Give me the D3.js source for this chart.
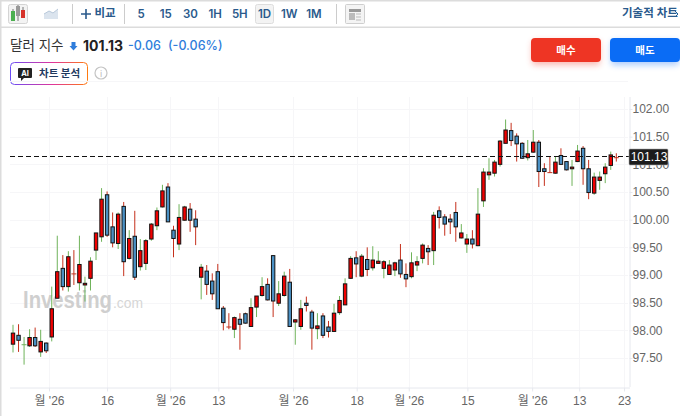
<!DOCTYPE html>
<html>
<head>
<meta charset="utf-8">
<script src="https://cdnjs.cloudflare.com/ajax/libs/d3/7.8.5/d3.min.js"></script>
<style>
	html, body {margin:0;padding:0;background:#fff;overflow:hidden;}
	text {font-family:"Inter","Noto Sans CJK KR",sans-serif;}
	.axis text {font-family:"Liberation Sans","Noto Sans CJK KR",sans-serif;font-size:12px;fill:#666;}
	.axis path, .axis line {stroke:#e6e8ee;}
	.tool {fill:#2a5a8c;font-size:11.5px;font-weight:600;text-anchor:middle;}
</style>
</head>
<body>
<svg id="chart" width="680" height="416"></svg>
<script>
var opens = [97.75,97.91,97.73,97.72,97.87,97.61,97.77,97.88,98.58,99.12,98.79,99.03,98.86,98.82,98.94,99.45,99.69,100.45,99.87,99.57,
	100.24,99.30,99.70,99.15,99.21,99.65,99.89,100.23,100.59,99.81,99.56,99.99,100.19,100.01,98.96,99.07,98.89,99.06,98.40,98.07,
	98.02,98.20,98.30,98.07,98.42,98.63,98.83,99.35,98.49,98.63,98.87,98.15,98.07,98.49,98.33,98.03,98.26,98.06,97.98,98.32,
	98.46,98.94,99.31,98.98,99.28,99.13,99.21,99.12,99.01,99.09,99.27,99.01,98.97,99.18,99.30,99.48,99.44,100.16,100.05,100.01,
	100.13,99.67,99.56,99.65,99.53,100.34,100.81,100.84,101.00,101.38,101.61,101.51,101.38,101.12,101.22,101.40,100.92,100.86,100.84,101.16,
	101.05,100.92,101.05,101.29,100.92,100.48,100.71,100.83,100.98,101.13];
var highs = [98.10,98.11,97.88,98.02,98.05,98.01,97.78,98.79,99.71,99.36,99.43,99.45,99.71,98.97,99.32,99.76,100.57,100.51,100.13,100.13,
	100.32,99.81,100.16,99.65,99.65,99.94,100.22,100.63,100.66,99.89,100.28,100.25,100.30,100.17,99.20,99.18,99.03,99.20,98.44,98.31,
	98.25,98.31,98.32,98.58,98.62,98.96,98.94,99.36,98.89,99.06,99.11,98.20,98.55,98.61,98.37,98.31,98.31,98.17,98.48,98.62,
	98.94,99.34,99.43,99.38,99.50,99.52,99.43,99.27,99.27,99.24,99.56,99.21,99.41,99.34,99.57,99.54,100.14,100.24,100.10,100.10,
	100.32,99.92,99.74,99.81,100.57,100.93,101.11,101.08,101.44,101.81,101.75,101.56,101.40,101.44,101.62,101.44,101.02,101.15,101.15,101.29,
	101.06,101.08,101.35,101.33,101.08,100.85,100.87,101.02,101.23,101.20];
var lows = [97.60,97.61,97.38,97.70,97.70,97.52,97.59,97.80,98.58,98.72,98.70,98.82,98.72,98.52,98.72,99.27,99.60,99.69,99.50,99.47,
	98.98,99.28,98.91,99.08,99.09,99.62,99.81,100.22,99.96,99.32,99.45,99.98,99.78,99.54,98.56,98.64,98.55,98.39,98.00,98.02,
	97.86,97.65,98.12,98.07,98.24,98.61,98.54,98.24,98.44,98.61,98.06,97.74,98.01,98.34,97.65,97.84,97.86,97.87,97.97,98.28,
	98.46,98.93,98.96,98.96,98.98,99.08,99.21,98.94,99.00,98.98,98.95,98.78,98.94,99.07,99.21,99.18,99.18,99.84,99.71,99.74,
	99.60,99.66,99.40,99.48,99.52,100.23,100.72,100.78,100.96,101.38,101.33,101.05,101.10,101.07,101.21,100.59,100.61,100.85,100.83,100.99,
	100.89,100.61,101.04,100.63,100.37,100.45,100.54,100.66,100.90,101.05];
var closes = [97.95,97.82,97.74,97.87,97.72,97.80,97.63,98.39,99.06,98.79,99.33,99.02,99.19,98.85,99.25,99.76,100.37,99.72,99.58,100.10,
	99.24,99.66,98.96,99.44,99.62,99.92,100.16,100.52,99.96,99.66,100.04,100.23,99.99,99.87,99.14,98.83,98.66,98.39,98.14,98.06,
	98.23,98.11,98.13,98.41,98.62,98.79,98.55,98.53,98.66,98.98,98.07,98.19,98.39,98.45,98.04,98.08,97.91,97.98,98.31,98.54,
	98.84,99.30,99.20,99.34,99.10,99.27,99.25,99.24,99.18,99.22,99.02,98.93,99.22,99.24,99.54,99.42,100.08,100.04,99.92,99.96,
	99.87,99.76,99.65,99.56,100.10,100.86,100.86,101.04,101.42,101.62,101.43,101.37,101.11,101.19,101.40,100.87,100.87,100.85,101.04,101.00,
	100.90,100.95,101.24,100.92,100.49,100.77,100.77,100.95,101.17,101.12];

var priceTicks = [97.5,98,98.5,99,99.5,100,100.5,101,101.5,102];
var dateTicks = [6.5,17,28.4,37.1,50.6,62.1,71.5,82.1,93.8,102.3,110.4];
var dateLabels = ["월 '26","16","월 '26","13","월 '26","18","월 '26","15","월 '26","13","23"];
var periods = ["5","15","30","1H","5H","1D","1W","1M"];
var lastPrice = 101.13;

var green = "#6fb35a", red = "#c5301c", blueBody = "#4a90c4", redBody = "#f00000";

var svg = d3.select("#chart");
var x = d3.scaleLinear().domain([0, 109]).range([13, 616.3]);
var y = d3.scaleLinear().domain([97.5, 102]).range([358, 109]);

// frame
svg.append("rect").attr("x", 0).attr("y", 0).attr("width", 680).attr("height", 1.5).attr("fill", "#dcdcdc");
svg.append("rect").attr("x", 0).attr("y", 26.5).attr("width", 680).attr("height", 1.5).attr("fill", "#dcdcdc");
svg.append("rect").attr("x", 0).attr("y", 0).attr("width", 1.5).attr("height", 416).attr("fill", "#dcdcdc");

// toolbar
svg.append("rect").attr("x", 8.5).attr("y", 4.5).attr("width", 19).attr("height", 19).attr("rx", 2)
	.attr("fill", "#f3f3f3").attr("stroke", "#d4d4d4");
[[13, 11, 18, 9, 21, "#4caf50"], [18, 6, 13, 5, 21, "#999"], [23, 10, 15, 7, 18, "#d6322a"]].forEach(function(c) {
	svg.append("line").attr("x1", c[0]).attr("x2", c[0]).attr("y1", c[3]).attr("y2", c[4]).attr("stroke", "#777");
	svg.append("rect").attr("x", c[0] - 2).attr("y", c[1]).attr("width", 4).attr("height", c[2] - c[1] + 3).attr("fill", c[5]);
});
svg.append("path").attr("d", "M44 19V14L49 11L53 13L58 9V19Z").attr("fill", "#dbe4ee").attr("stroke", "none");
svg.append("path").attr("d", "M44 14L49 11L53 13L58 9").attr("fill", "none").attr("stroke", "#b8c8da");
[72.5, 124.5, 336.5].forEach(function(sx) {
	svg.append("line").attr("x1", sx).attr("x2", sx).attr("y1", 4).attr("y2", 24).attr("stroke", "#ccc");
});
svg.append("path").attr("d", "M81 14H91M86 9V19").attr("stroke", "#2a5a8c").attr("stroke-width", 1.6);
svg.append("text").attr("class", "tool").attr("x", 105).attr("y", 17).text("비교");
svg.append("rect").attr("x", 255.5).attr("y", 4.5).attr("width", 18).attr("height", 19).attr("rx", 2)
	.attr("fill", "#f3f3f3").attr("stroke", "#ddd");
svg.selectAll("text.period").data(periods).enter().append("text")
	.attr("class", "tool period")
	.attr("x", function(d, i) {return 141 + i * 24.7;})
	.attr("y", 17.5)
	.text(function(d) {return d;});
svg.append("rect").attr("x", 345.5).attr("y", 4.5).attr("width", 19).attr("height", 19).attr("rx", 1)
	.attr("fill", "#f4f4f4").attr("stroke", "#cfcfcf");
svg.append("rect").attr("x", 349).attr("y", 9).attr("width", 12).attr("height", 3).attr("fill", "#999");
svg.append("rect").attr("x", 349).attr("y", 13).attr("width", 6).attr("height", 7).attr("fill", "#bbb");
svg.append("path").attr("d", "M356 14H361M356 17H361M356 20H361").attr("stroke", "#bbb");
svg.append("text").attr("class", "tool").attr("x", 622).attr("y", 17).style("text-anchor", "start").text("기술적 차트");
svg.append("path").attr("d", "M675 11L678 14L675 17").attr("fill", "none").attr("stroke", "#2a5a8c");

// header
svg.append("text").attr("x", 10).attr("y", 50).style("font-size", "13.5px").attr("fill", "#333").text("달러 지수");
svg.append("path").attr("d", "M71.5 42H75.5V46H77.5L73.5 50.5L69.5 46H71.5Z").attr("fill", "#2f7ddb");
svg.append("text").attr("x", 83).attr("y", 51).style("font-size", "14px").style("font-weight", 700).attr("fill", "#222").text("101.13");
svg.append("text").attr("x", 128).attr("y", 50).style("font-size", "12.5px").style("font-weight", 500).attr("fill", "#2f7ddb").text("-0.06");
svg.append("text").attr("x", 168).attr("y", 50).style("font-size", "12.5px").style("font-weight", 500).attr("fill", "#2f7ddb").text("(-0.06%)");

var defs = svg.append("defs");
var grad = defs.append("linearGradient").attr("id", "aiBorder").attr("x1", "0").attr("x2", "1").attr("y1", "0").attr("y2", "0");
grad.append("stop").attr("offset", "0").attr("stop-color", "#6a4cf5");
grad.append("stop").attr("offset", "0.55").attr("stop-color", "#e0359a");
grad.append("stop").attr("offset", "1").attr("stop-color", "#ff7a10");
var glow = defs.append("filter").attr("id", "glow").attr("x", "-20%").attr("y", "-40%").attr("width", "140%").attr("height", "200%");
glow.append("feGaussianBlur").attr("stdDeviation", 3);

svg.append("rect").attr("x", 10.5).attr("y", 62.5).attr("width", 77).attr("height", 22).attr("rx", 4)
	.attr("fill", "#fff").attr("stroke", "url(#aiBorder)");
svg.append("path").attr("d", "M19 68H31Q32 68 32 69V77Q32 78 31 78H24L21 81V78H19Q18 78 18 77V69Q18 68 19 68Z").attr("fill", "#222");
svg.append("text").attr("x", 25).attr("y", 76).attr("text-anchor", "middle").style("font-size", "7.5px").style("font-weight", 700).attr("fill", "#fff").text("AI");
svg.append("text").attr("x", 39).attr("y", 77).style("font-size", "10.5px").style("font-weight", 700).attr("fill", "#1f3a5f").text("차트 분석");
svg.append("circle").attr("cx", 101).attr("cy", 73).attr("r", 6).attr("fill", "none").attr("stroke", "#c4c4c4").attr("stroke-width", 1.2);
svg.append("text").attr("x", 101).attr("y", 77).attr("text-anchor", "middle").style("font-size", "9px").attr("fill", "#bbb").text("i");

// buttons
[[531, "#ee3524", "매수"], [610, "#0a6cf5", "매도"]].forEach(function(b) {
	svg.append("rect").attr("x", b[0] + 1).attr("y", 41).attr("width", 68).attr("height", 24).attr("rx", 3)
		.attr("fill", b[1]).attr("opacity", 0.35).attr("filter", "url(#glow)");
	svg.append("rect").attr("x", b[0]).attr("y", 38).attr("width", 70).attr("height", 24).attr("rx", 4).attr("fill", b[1]);
	svg.append("text").attr("x", b[0] + 35).attr("y", 54).attr("text-anchor", "middle")
		.style("font-size", "10.5px").style("font-weight", 700).attr("fill", "#fff").text(b[2]);
});

// grid
var plot = svg.append("g");
plot.selectAll("line.hgrid").data(priceTicks.concat([102.5])).enter().append("line")
	.attr("x1", 10).attr("x2", 628)
	.attr("y1", function(d) {return Math.round(y(d)) + 0.5;})
	.attr("y2", function(d) {return Math.round(y(d)) + 0.5;})
	.attr("stroke", "#f6f6f8");
plot.selectAll("line.vgrid").data(dateTicks).enter().append("line")
	.attr("x1", function(d) {return Math.round(x(d)) + 0.5;})
	.attr("x2", function(d) {return Math.round(x(d)) + 0.5;})
	.attr("y1", 97).attr("y2", 387)
	.attr("stroke", "#f6f6f8");

// watermark
plot.append("text").attr("x", 23).attr("y", 308).style("font-family", "'Liberation Sans'").style("font-size", "23px")
	.style("font-weight", 700).attr("textLength", 89).attr("lengthAdjust", "spacingAndGlyphs")
	.attr("fill", "#cfcfcf").text("Investing");
plot.append("text").attr("x", 113).attr("y", 308).style("font-family", "'Liberation Sans'").style("font-size", "15px")
	.attr("textLength", 30).attr("lengthAdjust", "spacingAndGlyphs")
	.attr("fill", "#d6d6d6").text(".com");

// axes
var xAxis = d3.axisBottom(d3.scaleLinear().domain(x.domain()).range(x.range()))
	.tickValues(dateTicks)
	.tickSize(4)
	.tickPadding(5)
	.tickFormat(function(d, i) {return dateLabels[i];});
svg.append("g").attr("class", "axis").attr("transform", "translate(0,387.5)").call(xAxis)
	.call(function(g) {
		g.select(".domain").attr("d", "M10,0.5H630");
	});

var yAxis = d3.axisRight(y)
	.tickValues(priceTicks)
	.tickSize(3)
	.tickPadding(0)
	.tickFormat(d3.format(".2f"));
svg.append("g").attr("class", "axis").attr("transform", "translate(629.5,0)").call(yAxis)
	.call(function(g) {
		g.select(".domain").attr("d", "M0.5,97V387");
	});

// candles
var candles = opens.map(function(o, i) {
	return {i: i, o: o, h: highs[i], l: lows[i], c: closes[i]};
});
var cell = svg.append("g").selectAll("g.candle").data(candles).enter().append("g")
	.attr("class", "candle")
	.attr("transform", function(d) {return "translate(" + x(d.i) + ",0)";});

cell.append("line")
	.attr("y1", function(d) {return y(d.h);})
	.attr("y2", function(d) {return y(d.l);})
	.attr("stroke", function(d) {return d.c > d.o ? green : red;});

cell.filter(function(d) {return Math.abs(d.c - d.o) >= 0.02;})
	.append("rect")
	.attr("x", -1.7)
	.attr("width", 3.4)
	.attr("y", function(d) {return y(Math.max(d.o, d.c));})
	.attr("height", function(d) {return Math.abs(y(d.o) - y(d.c));})
	.attr("fill", function(d) {return d.c > d.o ? redBody : blueBody;})
	.attr("stroke", "#111")
	.attr("stroke-width", 1);

// doji bars
cell.filter(function(d) {return Math.abs(d.c - d.o) < 0.02;})
	.append("line")
	.attr("x1", -2.5).attr("x2", 2.5)
	.attr("y1", function(d) {return y(d.c);})
	.attr("y2", function(d) {return y(d.c);})
	.attr("stroke", function(d) {return d.c > d.o ? green : red;});

// last price
svg.append("line").attr("x1", 10).attr("x2", 629)
	.attr("y1", Math.round(y(lastPrice)) - 0.5).attr("y2", Math.round(y(lastPrice)) - 0.5)
	.attr("stroke", "#111").attr("stroke-dasharray", "5,3");
svg.append("rect").attr("x", 629).attr("y", 149).attr("width", 39).attr("height", 16).attr("rx", 1)
	.attr("fill", "#1c1c1c").attr("stroke", "#aaa").attr("stroke-width", 0.6);
svg.append("text").attr("x", 649).attr("y", 161).attr("text-anchor", "middle")
	.style("font-family", "'Liberation Sans'").style("font-size", "12px").attr("fill", "#fff").text(d3.format(".2f")(lastPrice));
</script>
</body>
</html>
